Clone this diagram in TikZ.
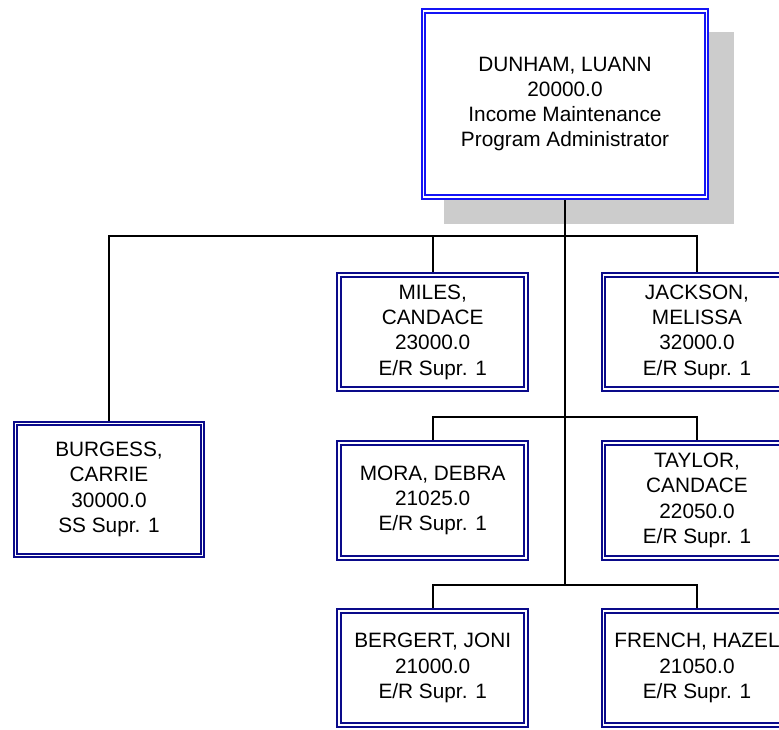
\documentclass[tikz,border=0pt]{standalone}
\usepackage{fontspec}
\setmainfont{Liberation Sans}
\definecolor{navyline}{RGB}{10,10,138}
\definecolor{topblue}{RGB}{20,20,245}
\definecolor{shadowgray}{RGB}{204,204,204}
\begin{document}
\begin{tikzpicture}[x=1pt,y=-1pt,
  box/.style={draw=navyline, double=white, double distance=1.8pt, line width=2pt,
    fill=white, minimum width=187pt, minimum height=114.5pt, inner sep=0pt,
    outer sep=2.9pt, align=center, font=\fontsize{20.8}{25.3}\selectfont},
  topbox/.style={box, draw=topblue, minimum width=283pt, minimum height=186.4pt},
  tallbox/.style={box, minimum height=132pt},
  conn/.style={line width=1.7pt, black}]
\useasboundingbox (0,0) rectangle (779,729);
\clip (0,0) rectangle (779,729);
% shadow
\fill[shadowgray] (444,32) rectangle (734,224);
% nodes
\node[topbox] (top) at (565,104) {DUNHAM, LUANN\\20000.0\\Income Maintenance\\Program Administrator};
\node[box] (miles) at (432.7,332) {MILES,\\CANDACE\\23000.0\\E/R Supr. 1};
\node[box] (jackson) at (697,332) {JACKSON,\\MELISSA\\32000.0\\E/R Supr. 1};
\node[tallbox] (burgess) at (109,489.5) {BURGESS,\\CARRIE\\30000.0\\SS Supr. 1};
\node[box] (mora) at (432.7,500.5) {MORA, DEBRA\\21025.0\\E/R Supr. 1};
\node[box] (taylor) at (697,500.5) {TAYLOR,\\CANDACE\\22050.0\\E/R Supr. 1};
\node[box] (bergert) at (432.7,668) {BERGERT, JONI\\21000.0\\E/R Supr. 1};
\node[box] (french) at (697,668) {FRENCH, HAZEL\\21050.0\\E/R Supr. 1};
% bus coordinates
\coordinate (bus1) at (565,236);
\coordinate (bus2) at (565,417);
\coordinate (bus3) at (565,585);
% connectors
\draw[conn] (top.south) -- (bus3);
\draw[conn] (burgess.north) |- (bus1) -| (jackson.north);
\draw[conn] (miles.north) -- (miles.north |- bus1);
\draw[conn] (mora.north) |- (bus2) -| (taylor.north);
\draw[conn] (bergert.north) |- (bus3) -| (french.north);
\end{tikzpicture}
\end{document}
